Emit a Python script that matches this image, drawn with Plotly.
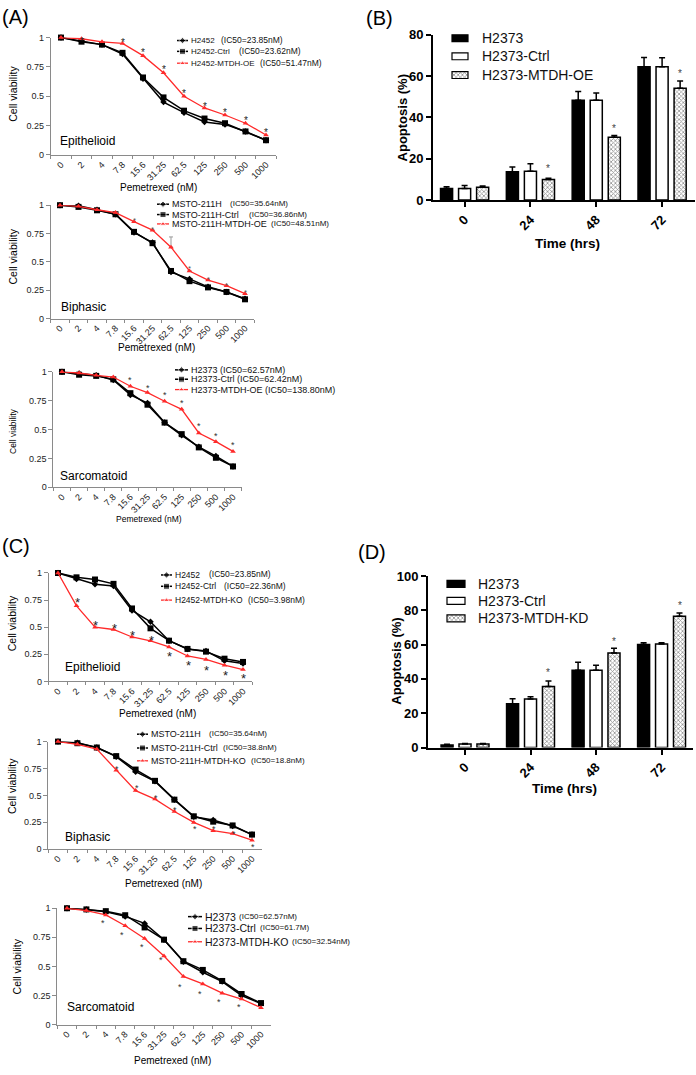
import plotly.graph_objects as go

W, H = 696, 1075
FONT = "Liberation Sans, Arial, sans-serif"


def fx(p):
    return p / W


def fy(p):
    return 1 - p / H


# ---------------- data ----------------
doses = ["0", "2", "4", "7.8", "15.6", "31.25", "62.5", "125", "250", "500", "1000"]

# (A) MTDH over-expression, cell viability
A1_h2452 = [1, 0.97, 0.94, 0.86, 0.65, 0.45, 0.36, 0.28, 0.26, 0.20, 0.125]
A1_ctrl = [1, 0.965, 0.94, 0.87, 0.66, 0.49, 0.377, 0.31, 0.27, 0.20, 0.125]
A1_oe = [1, 0.99, 0.964, 0.95, 0.846, 0.70, 0.50, 0.40, 0.34, 0.27, 0.17]
A1_stars = [None, 0.995, None, 0.98, 0.90, 0.75, 0.55, 0.44, 0.39, 0.32, 0.22]

A2_msto = [1, 0.995, 0.96, 0.92, 0.76, 0.67, 0.41, 0.35, 0.28, 0.235, 0.175]
A2_ctrl = [1, 0.985, 0.955, 0.92, 0.765, 0.665, 0.42, 0.33, 0.275, 0.235, 0.17]
A2_oe = [1, 0.99, 0.96, 0.935, 0.855, 0.78, 0.63, 0.42, 0.34, 0.29, 0.22]
A2_oe_err = [0, 0, 0, 0, 0, 0, 0.09, 0, 0, 0, 0]
A2_stars = [None, None, None, None, 0.89, 0.81, None, 0.46, 0.365, 0.31, 0.255]

A3_h2373 = [1, 0.985, 0.97, 0.93, 0.80, 0.73, 0.56, 0.45, 0.35, 0.27, 0.18]
A3_ctrl = [1, 0.975, 0.965, 0.935, 0.815, 0.715, 0.56, 0.46, 0.345, 0.255, 0.18]
A3_oe = [1, 0.99, 0.97, 0.955, 0.875, 0.82, 0.745, 0.675, 0.47, 0.395, 0.31]
A3_stars = [None, None, None, None, 0.95, 0.886, 0.82, 0.75, 0.557, 0.47, 0.39]

# (C) MTDH knock-out, cell viability
C1_h2452 = [1, 0.945, 0.897, 0.88, 0.655, 0.55, 0.376, 0.30, 0.28, 0.19, 0.165]
C1_ctrl = [1, 0.96, 0.94, 0.90, 0.673, 0.49, 0.376, 0.30, 0.275, 0.21, 0.18]
C1_ko = [1, 0.697, 0.50, 0.479, 0.41, 0.375, 0.318, 0.235, 0.203, 0.15, 0.11]
C1_stars = [None, 0.76, 0.555, 0.524, 0.46, 0.41, 0.267, 0.185, 0.136, 0.09, 0.06]

C2_msto = [1, 0.99, 0.945, 0.86, 0.72, 0.63, 0.46, 0.30, 0.27, 0.215, 0.135]
C2_ctrl = [1, 0.985, 0.945, 0.865, 0.74, 0.635, 0.46, 0.305, 0.255, 0.22, 0.135]
C2_ko = [1, 0.975, 0.93, 0.734, 0.544, 0.465, 0.35, 0.248, 0.171, 0.144, 0.083]
C2_stars = [None, None, None, 0.774, 0.596, 0.498, 0.388, 0.214, 0.214, 0.168, 0.046]

C3_h2373 = [1, 0.99, 0.97, 0.93, 0.87, 0.73, 0.54, 0.45, 0.37, 0.25, 0.18]
C3_ctrl = [1, 0.99, 0.975, 0.94, 0.835, 0.73, 0.545, 0.47, 0.375, 0.263, 0.185]
C3_ko = [1, 0.98, 0.943, 0.85, 0.74, 0.59, 0.414, 0.35, 0.27, 0.22, 0.145]
C3_stars = [None, None, 0.90, 0.79, 0.69, 0.578, 0.345, 0.29, 0.22, 0.178, None]

# legend texts
A1_names = ["H2452", "H2452-Ctrl", "H2452-MTDH-OE"]
A1_ic50 = ["(IC50=23.85nM)", "(IC50=23.62nM)", "(IC50=51.47nM)"]
A2_names = ["MSTO-211H", "MSTO-211H-Ctrl", "MSTO-211H-MTDH-OE"]
A2_ic50 = ["(IC50=35.64nM)", "(IC50=36.86nM)", "(IC50=48.51nM)"]
A3_names = ["H2373 (IC50=62.57nM)", "H2373-Ctrl (IC50=62.42nM)", "H2373-MTDH-OE (IC50=138.80nM)"]
C1_names = ["H2452", "H2452-Ctrl", "H2452-MTDH-KO"]
C1_ic50 = ["(IC50=23.85nM)", "(IC50=22.36nM)", "(IC50=3.98nM)"]
C2_names = ["MSTO-211H", "MSTO-211H-Ctrl", "MSTO-211H-MTDH-KO"]
C2_ic50 = ["(IC50=35.64nM)", "(IC50=38.8nM)", "(IC50=18.8nM)"]
C3_names = ["H2373", "H2373-Ctrl", "H2373-MTDH-KO"]
C3_ic50 = ["(IC50=62.57nM)", "(IC50=61.7M)", "(IC50=32.54nM)"]

# (B) / (D) apoptosis
times = ["0", "24", "48", "72"]
B_h2373 = [5.6, 13.6, 48.3, 64.5]
B_h2373_err = [0.8, 2.4, 4.2, 4.4]
B_ctrl = [5.6, 13.9, 48.2, 64.5]
B_ctrl_err = [1.4, 3.6, 3.6, 4.3]
B_oe = [6.1, 9.9, 30.4, 54.0]
B_oe_err = [0.6, 0.6, 0.8, 3.5]
B_stars = [None, 16.6, 35.8, 62.5]
B_names = ["H2373", "H2373-Ctrl", "H2373-MTDH-OE"]

D_h2373 = [1.5, 25.5, 45.1, 60.0]
D_h2373_err = [0.4, 2.9, 4.6, 1.0]
D_ctrl = [2.0, 28.3, 45.1, 60.4]
D_ctrl_err = [0.3, 1.3, 2.9, 0.6]
D_kd = [2.0, 35.6, 55.1, 76.5]
D_kd_err = [0.3, 3.2, 2.8, 1.9]
D_stars = [None, 45.3, 63.7, 84.7]
D_names = ["H2373", "H2373-Ctrl", "H2373-MTDH-KD"]

RED = "#ff2a2a"
GRAY_AX = "#8a8a8a"

fig = go.Figure()
axes = {}
ann = []


def ref(n, a):
    return a if n == 1 else f"{a}{n}"


def text(t, x, y, size, xanchor="left", angle=0, bold=False, color="black", xref="paper", yref="paper", yshift=0):
    if xref == "paper":
        x = fx(x)
    if yref == "paper":
        y = fy(y)
    ann.append(dict(text=t, x=x, y=y, xref=xref, yref=yref, xanchor=xanchor, yanchor="middle",
                    textangle=angle, showarrow=False, yshift=yshift,
                    font=dict(family=FONT, size=size, color=color, weight="bold" if bold else "normal")))


# ---------------- line panels ----------------
line_panels = [
    dict(n=1, pts=(61, 266), yd=(31, 150), series=(A1_h2452, A1_ctrl, A1_oe), err=None, stars=A1_stars,
         sdx=0, ssize=10, scol="#222", label="Epithelioid", lab=(58, 136), ytitle=(13, 88), xtitle=(158, 183),
         names=A1_names, ic=A1_ic50, key=(177, 188), name_x=189, ic_x=[219, 237, 258], rows=[34, 45, 57],
         nfont=8, icfont=8.5, tfont=10.5),
    dict(n=2, pts=(60, 245), yd=(201, 316), series=(A2_msto, A2_ctrl, A2_oe), err=A2_oe_err, stars=A2_stars,
         sdx=0, ssize=8, scol="#555", label="Biphasic", lab=(59, 304), ytitle=(13, 253), xtitle=(156, 345),
         names=A2_names, ic=A2_ic50, key=(157, 169), name_x=170, ic_x=[228, 247, 269], rows=[200, 210.5, 220],
         nfont=9, icfont=8, tfont=10.5),
    dict(n=3, pts=(62, 233), yd=(370, 487), series=(A3_h2373, A3_ctrl, A3_oe), err=None, stars=A3_stars,
         sdx=0, ssize=9, scol="#333", label="Sarcomatoid", lab=(58, 476), ytitle=(13, 430), xtitle=(149, 519),
         names=A3_names, ic=None, key=(175, 188), name_x=189, ic_x=None, rows=[368, 377.5, 388],
         nfont=9, icfont=9, tfont=8.5),
    dict(n=4, pts=(58, 243), yd=(574, 684), series=(C1_h2452, C1_ctrl, C1_ko), err=None, stars=C1_stars,
         sdx=0.05, ssize=13, scol="#222", label="Epithelioid", lab=(63, 669), ytitle=(12, 625), xtitle=(157, 717),
         names=C1_names, ic=C1_ic50, key=(161, 172), name_x=173, ic_x=[207, 222, 246], rows=[576, 587.5, 601.5],
         nfont=8.5, icfont=8.5, tfont=10.5),
    dict(n=5, pts=(58, 252), yd=(745, 854), series=(C2_msto, C2_ctrl, C2_ko), err=None, stars=C2_stars,
         sdx=0.05, ssize=9, scol="#333", label="Biphasic", lab=(63, 842), ytitle=(12, 790), xtitle=(163, 889),
         names=C2_names, ic=C2_ic50, key=(137, 148), name_x=149, ic_x=[207, 221, 249], rows=[737.5, 751.5, 764.5],
         nfont=9, icfont=8, tfont=10.5),
    dict(n=6, pts=(67, 261), yd=(914, 1032), series=(C3_h2373, C3_ctrl, C3_ko), err=None, stars=C3_stars,
         sdx=-0.15, ssize=9, scol="#333", label="Sarcomatoid", lab=(65, 1014), ytitle=(17, 973), xtitle=(172, 1068),
         names=C3_names, ic=C3_ic50, key=(188, 202), name_x=203, ic_x=[237, 258, 290], rows=[922.5, 934.5, 948],
         nfont=10.5, icfont=8, tfont=10.5),
]

styles = [
    dict(color="black", symbol="diamond", size=5, width=1.5),
    dict(color="black", symbol="square", size=6, width=1.5),
    dict(color=RED, symbol="triangle-up", size=5, width=1.3),
]

for p in line_panels:
    n = p["n"]
    a, b = p["pts"]
    s = (b - a) / 10
    axes[ref(n, "xaxis")] = dict(
        domain=[fx(a - 0.5 * s), fx(b + 0.5 * s)], range=[-0.5, 10.5], type="category", anchor=ref(n, "y"),
        showline=True, linecolor=GRAY_AX, linewidth=1, ticks="outside", ticklen=3, tickcolor=GRAY_AX,
        tickson="boundaries", tickangle=-45, tickfont=dict(family=FONT, size=9, color="#222"),
        showgrid=False, zeroline=False, fixedrange=True)
    axes[ref(n, "yaxis")] = dict(
        domain=[fy(p["yd"][1]), fy(p["yd"][0])], range=[0, 1], anchor=ref(n, "x"),
        tickvals=[0, 0.25, 0.5, 0.75, 1], ticktext=["0", "0.25", "0.5", "0.75", "1"],
        showline=True, linecolor=GRAY_AX, linewidth=1, ticks="outside", ticklen=4, tickcolor=GRAY_AX,
        tickfont=dict(family=FONT, size=9, color="#222"), showgrid=False, zeroline=False, fixedrange=True)
    for k, vals in enumerate(p["series"]):
        st = styles[k]
        err = None
        if k == 2 and p["err"] is not None:
            err = dict(type="data", array=p["err"], symmetric=False, arrayminus=[0] * len(doses),
                       color="#999", thickness=1, width=2)
        fig.add_trace(go.Scatter(
            x=doses, y=vals, mode="lines+markers", xaxis=ref(n, "x"), yaxis=ref(n, "y"),
            line=dict(color=st["color"], width=st["width"]),
            marker=dict(color=st["color"], symbol=st["symbol"], size=st["size"]),
            error_y=err, cliponaxis=False, showlegend=False, hoverinfo="skip"))
    for i, v in enumerate(p["stars"]):
        if v is not None:
            text("*", i + p["sdx"], v, p["ssize"], xanchor="center", color=p["scol"],
                 xref=ref(n, "x"), yref=ref(n, "y"), yshift=-0.3 * p["ssize"])
    text(p["label"], p["lab"][0], p["lab"][1], 12)
    text("Cell viability", p["ytitle"][0], p["ytitle"][1], p["tfont"], xanchor="center", angle=-90)
    text("Pemetrexed (nM)", p["xtitle"][0], p["xtitle"][1], p["tfont"] - 0.5 if p["tfont"] > 9 else p["tfont"],
         xanchor="center")
    # legend keys drawn on the full-page overlay axis
    k0, k1 = p["key"]
    for k, ry in enumerate(p["rows"]):
        st = styles[k]
        fig.add_trace(go.Scatter(
            x=[k0, (k0 + k1) / 2, k1], y=[ry, ry, ry], mode="lines+markers", xaxis="x9", yaxis="y9",
            line=dict(color=st["color"], width=st["width"]),
            marker=dict(color=st["color"], symbol=st["symbol"], size=[0, st["size"], 0]),
            cliponaxis=False, showlegend=False, hoverinfo="skip"))
        text(p["names"][k], p["name_x"], ry, p["nfont"], color="#111")
        if p["ic"] is not None:
            text(p["ic"][k], p["ic_x"][k], ry - 0.5, p["icfont"], color="#111")

# ---------------- bar panels ----------------
bar_panels = [
    dict(n=7, xd=(433, 695), xr=[-0.48, 3.5], yd=(28, 195.7), ymax=80, tv=[0, 20, 40, 60, 80],
         series=((B_h2373, B_h2373_err), (B_ctrl, B_ctrl_err), (B_oe, B_oe_err)), stars=B_stars,
         names=B_names, box=(452, 468), rows=[31.7, 50, 69], name_x=480,
         ytitle=(402, 113), xtitle=(567, 240)),
    dict(n=8, xd=(428, 693), xr=[-0.565, 3.48], yd=(577, 751), ymax=100, tv=[0, 20, 40, 60, 80, 100],
         series=((D_h2373, D_h2373_err), (D_ctrl, D_ctrl_err), (D_kd, D_kd_err)), stars=D_stars,
         names=D_names, box=(447, 465), rows=[585, 602.3, 620], name_x=476,
         ytitle=(397, 664), xtitle=(564, 793)),
]

fills = [
    dict(color="black"),
    dict(color="white"),
    dict(color="white", pattern=dict(shape="x", size=3, solidity=0.45, fgcolor="#222", bgcolor="white")),
]

for p in bar_panels:
    n = p["n"]
    axes[f"xaxis{n}"] = dict(
        domain=[fx(p["xd"][0]), fx(p["xd"][1])], range=p["xr"], type="category", anchor=f"y{n}",
        showline=True, linecolor="black", linewidth=2, ticks="outside", ticklen=5, tickwidth=2,
        tickcolor="black", tickangle=-45,
        tickfont=dict(family=FONT, size=13, color="black", weight="bold"),
        showgrid=False, zeroline=False, fixedrange=True)
    axes[f"yaxis{n}"] = dict(
        domain=[fy(p["yd"][1]), fy(p["yd"][0])], range=[0, p["ymax"]], anchor=f"x{n}", tickvals=p["tv"],
        showline=True, linecolor="black", linewidth=2, ticks="outside", ticklen=5, tickwidth=2,
        tickcolor="black", tickfont=dict(family=FONT, size=13, color="black", weight="bold"),
        showgrid=False, zeroline=False, fixedrange=True)
    for k, (vals, err) in enumerate(p["series"]):
        fig.add_trace(go.Bar(
            x=times, y=vals, xaxis=f"x{n}", yaxis=f"y{n}",
            marker=dict(line=dict(color="black", width=1.5), **fills[k]),
            error_y=dict(type="data", array=err, arrayminus=[0] * 4, symmetric=False,
                         color="black", thickness=1.5, width=3),
            showlegend=False, hoverinfo="skip"))
    for i, v in enumerate(p["stars"]):
        if v is not None:
            text("*", i + 0.274, v, 10, xanchor="center", color="#444",
                 xref=f"x{n}", yref=f"y{n}", yshift=-3)
    b0, b1 = p["box"]
    for k, ry in enumerate(p["rows"]):
        fig.add_trace(go.Bar(
            y=[ry], x=[b1 - b0], base=[b0], width=[7], offset=[-3.5], orientation="h",
            xaxis="x9", yaxis="y9", marker=dict(line=dict(color="black", width=1.2), **fills[k]),
            showlegend=False, hoverinfo="skip"))
        text(p["names"][k], p["name_x"], ry, 14, color="#111")
    text("Apoptosis (%)", p["ytitle"][0], p["ytitle"][1], 13, xanchor="center", angle=-90, bold=True)
    text("Time (hrs)", p["xtitle"][0], p["xtitle"][1], 13.5, xanchor="center", bold=True)

# overlay axis in page pixels for legend keys
axes["xaxis9"] = dict(domain=[0, 1], range=[0, W], visible=False, anchor="y9", fixedrange=True)
axes["yaxis9"] = dict(domain=[0, 1], range=[H, 0], visible=False, anchor="x9", fixedrange=True)

# panel letters
text("(A)", 0, 10, 20)
text("(B)", 364, 11, 20)
text("(C)", 0, 547, 20)
text("(D)", 356, 553, 20)

fig.update_layout(
    width=W, height=H, autosize=False, margin=dict(l=0, r=0, t=0, b=0),
    paper_bgcolor="white", plot_bgcolor="rgba(0,0,0,0)",
    barmode="group", bargap=0.178, bargroupgap=0.33,
    font=dict(family=FONT, color="black"), showlegend=False,
    annotations=ann, **axes)

# page body has a default 8px margin; drop it so the figure fills the window exactly
fig.write_html("out.html", post_script="document.body.style.margin='0';",
               config={"displayModeBar": False})
